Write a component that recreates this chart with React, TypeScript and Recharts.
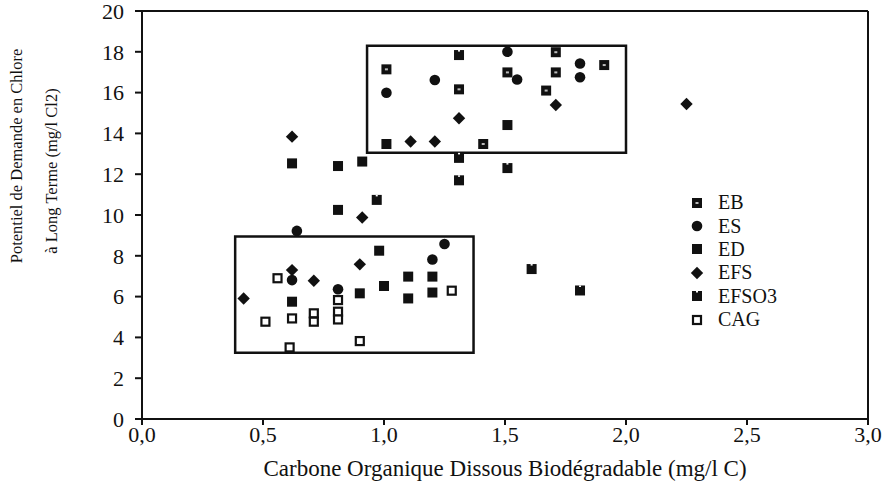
import React from 'react';
import { ScatterChart, Scatter, XAxis, YAxis, ReferenceArea, ReferenceLine } from 'recharts';

const xTicks = [0, 0.5, 1, 1.5, 2, 2.5, 3];
const xMinorTicks = [0.25, 0.75, 1.25, 1.75, 2.25, 2.75];
const yTicks = [0, 2, 4, 6, 8, 10, 12, 14, 16, 18, 20];
const yMinorTicks = [1, 3, 5, 7, 9, 11, 13, 15, 17, 19];

const seriesNames = ['EB', 'ES', 'ED', 'EFS', 'EFSO3', 'CAG'];

const ebPoints: [number, number][] = [
  [1.01, 17.14], [1.71, 17.98], [1.91, 17.35], [1.51, 16.99], [1.71, 16.99],
  [1.31, 16.16], [1.67, 16.1], [1.41, 13.48],
];
const esPoints: [number, number][] = [
  [1.51, 18.0], [1.81, 17.43], [1.21, 16.62], [1.55, 16.64], [1.81, 16.75],
  [1.01, 15.99], [0.64, 9.22], [1.25, 8.58], [1.2, 7.82], [0.62, 6.81], [0.81, 6.36],
];
const edPoints: [number, number][] = [
  [1.01, 13.48], [1.51, 14.41], [0.62, 12.53], [0.81, 12.4], [0.91, 12.62],
  [0.81, 10.25], [0.98, 8.25], [1.1, 6.98], [1.2, 6.98], [1.0, 6.52],
  [0.9, 6.16], [1.1, 5.91], [1.2, 6.2], [0.62, 5.75],
];
const efsPoints: [number, number][] = [
  [1.71, 15.39], [2.25, 15.44], [1.31, 14.74], [1.11, 13.6], [1.21, 13.6],
  [0.62, 13.84], [0.91, 9.88], [0.9, 7.58], [0.62, 7.3], [0.71, 6.78], [0.42, 5.91],
];
const efso3Points: [number, number][] = [
  [1.31, 17.84], [1.31, 12.8], [1.31, 11.7], [1.51, 12.3], [0.97, 10.74],
  [1.61, 7.35], [1.81, 6.3],
];
const cagPoints: [number, number][] = [
  [0.56, 6.9], [1.28, 6.29], [0.81, 5.83], [0.81, 5.26], [0.81, 4.88],
  [0.71, 5.18], [0.71, 4.77], [0.62, 4.93], [0.51, 4.77], [0.9, 3.82], [0.61, 3.51],
];

const upperBox = { x1: 0.93, x2: 2.0, y1: 13.05, y2: 18.3 };
const lowerBox = { x1: 0.385, x2: 1.37, y1: 3.25, y2: 8.95 };

const toData = (pts: [number, number][]) => pts.map(([x, y]) => ({ x, y }));

const FONT = 'Liberation Serif, Times New Roman, serif';

type ShapeProps = { cx?: number; cy?: number };

const EBShape = ({ cx = 0, cy = 0 }: ShapeProps) => (
  <g>
    <rect x={cx - 5} y={cy - 5} width={10} height={10} fill="#111" />
    <rect x={cx - 1.5} y={cy - 1} width={3} height={2} fill="#bbb" />
  </g>
);
const ESShape = ({ cx = 0, cy = 0 }: ShapeProps) => (
  <circle cx={cx} cy={cy} r={5.3} fill="#111" />
);
const EDShape = ({ cx = 0, cy = 0 }: ShapeProps) => (
  <rect x={cx - 5} y={cy - 5} width={10} height={10} fill="#111" />
);
const EFSShape = ({ cx = 0, cy = 0 }: ShapeProps) => (
  <polygon points={`${cx},${cy - 6.2} ${cx + 6.2},${cy} ${cx},${cy + 6.2} ${cx - 6.2},${cy}`} fill="#111" />
);
const EFSO3Shape = ({ cx = 0, cy = 0 }: ShapeProps) => (
  <g>
    <rect x={cx - 5} y={cy - 5} width={10} height={10} fill="#111" />
    <rect x={cx - 1} y={cy - 5} width={2} height={1.5} fill="#fff" />
  </g>
);
const CAGShape = ({ cx = 0, cy = 0 }: ShapeProps) => (
  <rect x={cx - 4} y={cy - 4} width={8} height={8} fill="#fff" stroke="#111" strokeWidth={2.2} />
);

const shapes = [EBShape, ESShape, EDShape, EFSShape, EFSO3Shape, CAGShape];
const allData = [ebPoints, esPoints, edPoints, efsPoints, efso3Points, cagPoints];

const fmt = (v: number) => v.toFixed(1).replace('.', ',');
const tickStyle = { fill: '#111', fontSize: 22, fontFamily: FONT };

export default function App() {
  return (
    <div style={{ position: 'absolute', left: 0, top: 0, width: 890, height: 497, background: '#fff', fontFamily: FONT }}>
      <ScatterChart width={890} height={497} margin={{ top: 11, right: 22, bottom: 48, left: 0 }}>
        <XAxis
          type="number"
          dataKey="x"
          domain={[0, 3]}
          ticks={xTicks}
          tickFormatter={fmt}
          height={30}
          axisLine={{ stroke: '#111', strokeWidth: 2 }}
          tickLine={{ stroke: '#111', strokeWidth: 2 }}
          tickSize={6}
          tickMargin={1}
          tick={tickStyle}
          interval={0}
          allowDataOverflow
        />
        <XAxis
          xAxisId="minor"
          type="number"
          dataKey="x"
          domain={[0, 3]}
          ticks={xMinorTicks}
          tickFormatter={() => ''}
          height={0}
          axisLine={false}
          tickLine={{ stroke: '#111', strokeWidth: 1.5 }}
          tickSize={4}
          interval={0}
          allowDataOverflow
        />
        <YAxis
          type="number"
          dataKey="y"
          domain={[0, 20]}
          ticks={yTicks}
          width={142}
          axisLine={{ stroke: '#111', strokeWidth: 2 }}
          tickLine={{ stroke: '#111', strokeWidth: 2 }}
          tickSize={7}
          tickMargin={11}
          tick={tickStyle}
          interval={0}
          allowDataOverflow
        />
        <YAxis
          yAxisId="minor"
          type="number"
          dataKey="y"
          domain={[0, 20]}
          ticks={yMinorTicks}
          tickFormatter={() => ''}
          width={0}
          axisLine={false}
          tickLine={{ stroke: '#111', strokeWidth: 1.5 }}
          tickSize={4}
          interval={0}
          allowDataOverflow
        />
        <ReferenceLine y={20} stroke="#111" strokeWidth={2} />
        <ReferenceLine x={3} stroke="#111" strokeWidth={2} />
        <ReferenceArea {...upperBox} fill="none" stroke="#111" strokeWidth={2.5} fillOpacity={0} />
        <ReferenceArea {...lowerBox} fill="none" stroke="#111" strokeWidth={2.5} fillOpacity={0} />
        {allData.map((pts, i) => (
          <Scatter
            key={seriesNames[i]}
            name={seriesNames[i]}
            data={toData(pts)}
            shape={shapes[i] as any}
            isAnimationActive={false}
          />
        ))}
      </ScatterChart>
      <div style={{ position: 'absolute', left: 690, top: 191, fontSize: 20, color: '#111' }}>
        {seriesNames.map((name, i) => {
          const S = shapes[i];
          return (
            <div key={name} style={{ display: 'flex', alignItems: 'center', height: 23.4 }}>
              <svg width={14} height={14} style={{ marginRight: 14 }}>
                <S cx={7} cy={7} />
              </svg>
              <span>{name}</span>
            </div>
          );
        })}
      </div>
      <div style={{ position: 'absolute', left: 142, width: 726, top: 456, lineHeight: '26px', textAlign: 'center', fontSize: 23, color: '#111', whiteSpace: 'nowrap' }}>
        Carbone Organique Dissous Biodégradable (mg/l C)
      </div>
      <div style={{ position: 'absolute', left: 17, top: 156, width: 0, height: 0 }}>
        <div style={{ position: 'absolute', transform: 'translate(-50%, -50%) rotate(-90deg)', fontSize: 16.5, color: '#111', whiteSpace: 'nowrap' }}>
          Potentiel de Demande en Chlore
        </div>
      </div>
      <div style={{ position: 'absolute', left: 52, top: 171, width: 0, height: 0 }}>
        <div style={{ position: 'absolute', transform: 'translate(-50%, -50%) rotate(-90deg)', fontSize: 16.5, color: '#111', whiteSpace: 'nowrap' }}>
          à Long Terme (mg/l Cl2)
        </div>
      </div>
    </div>
  );
}
